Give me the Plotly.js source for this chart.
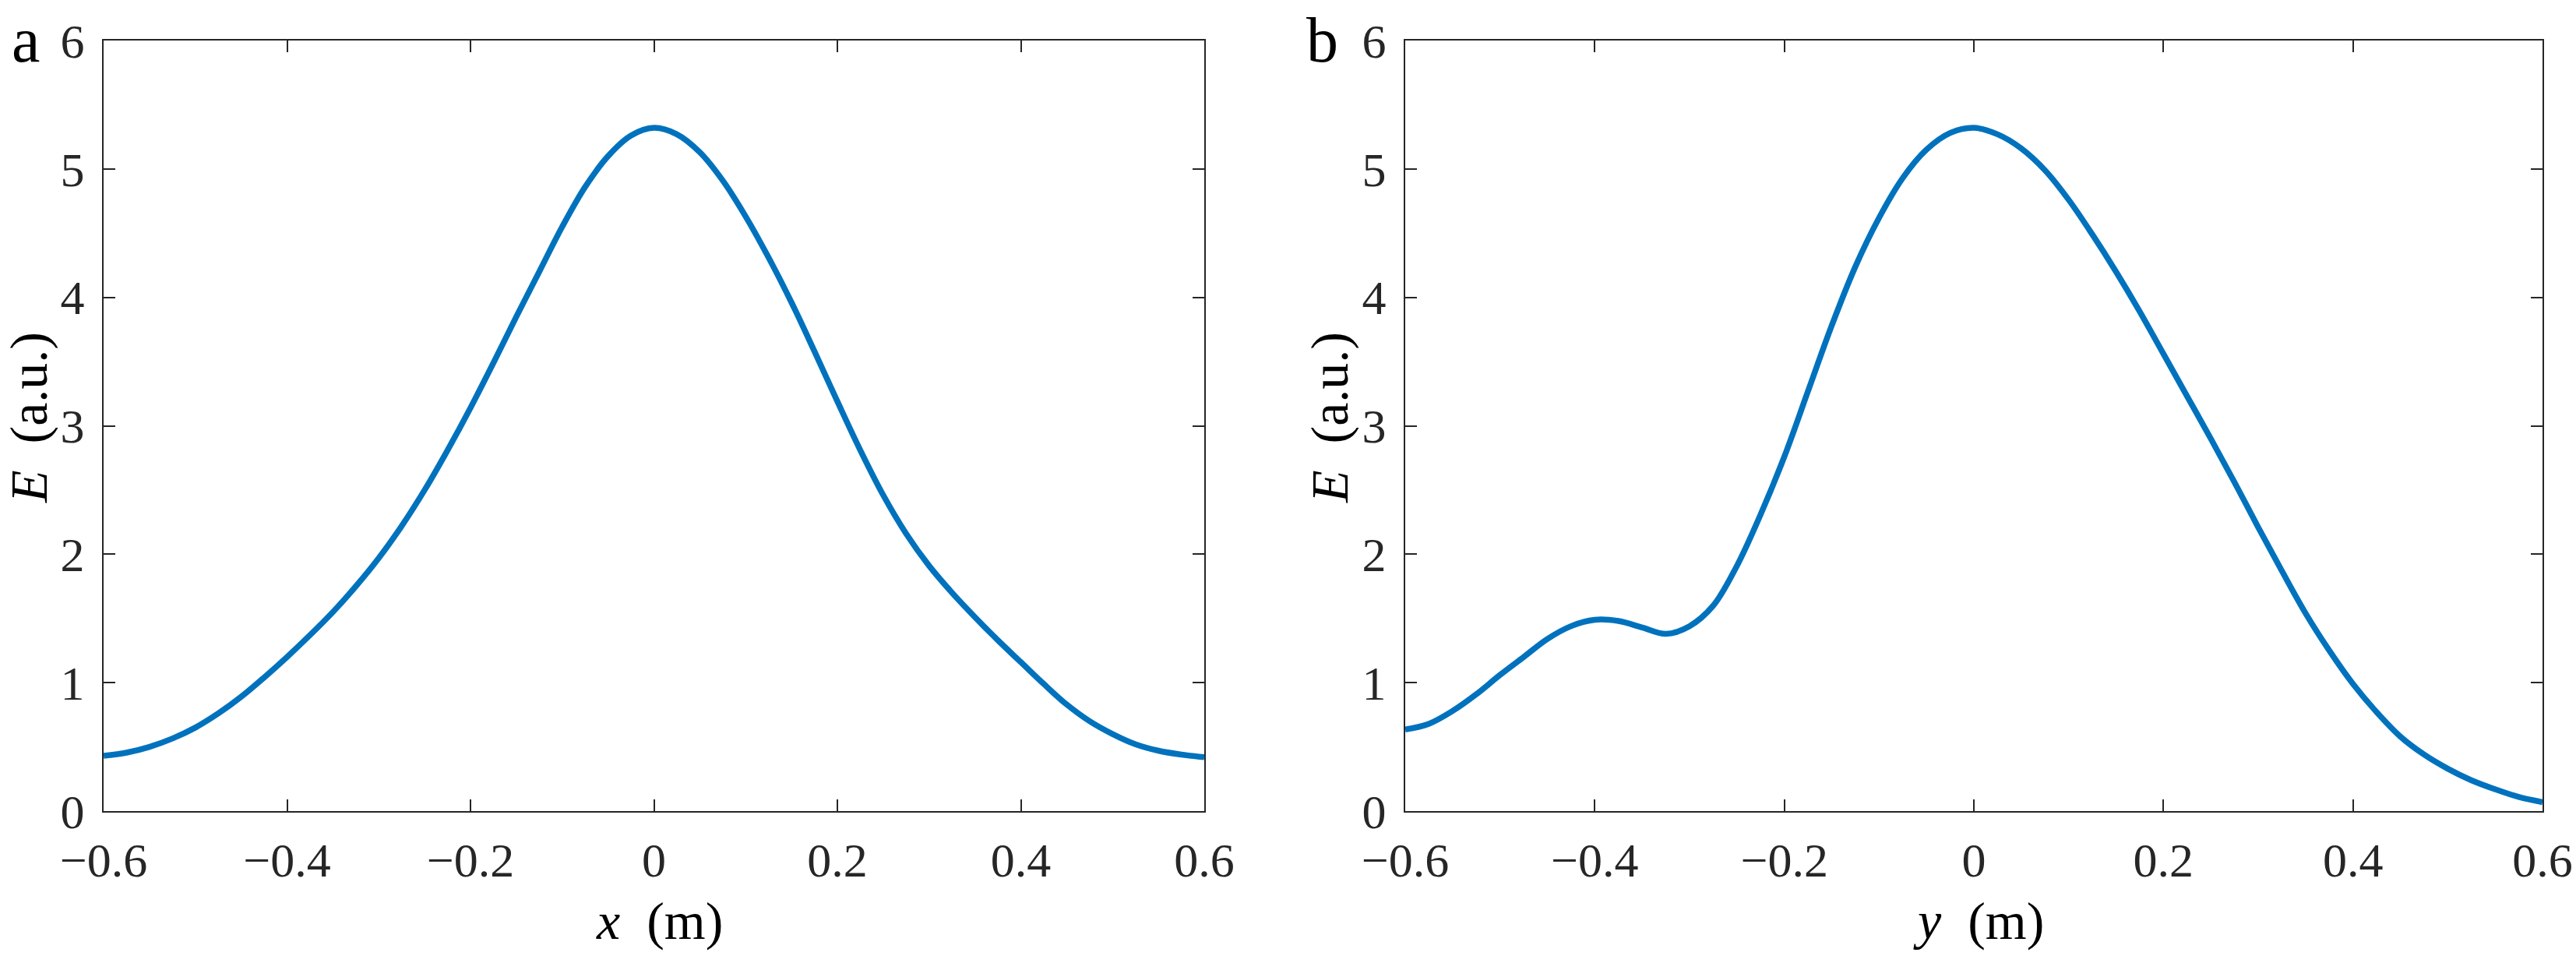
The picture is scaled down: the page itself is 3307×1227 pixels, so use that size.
<!DOCTYPE html>
<html>
<head>
<meta charset="utf-8">
<script src="https://cdn.plot.ly/plotly-3.0.1.min.js"></script>
<style>
  html, body { margin: 0; padding: 0; background: #fff; }
  #chart { width: 3307px; height: 1227px; }
</style>
</head>
<body>
<div id="chart"></div>
<script>
// panel a: E along x
var posX = [-0.6, -0.575, -0.55, -0.525, -0.5, -0.475, -0.45, -0.425, -0.4, -0.375, -0.35, -0.325,
            -0.3, -0.275, -0.25, -0.225, -0.2, -0.175, -0.15, -0.125, -0.1, -0.075, -0.05, -0.025,
            0, 0.025, 0.05, 0.075, 0.1, 0.125, 0.15, 0.175, 0.2, 0.225, 0.25, 0.275,
            0.3, 0.325, 0.35, 0.375, 0.4, 0.425, 0.45, 0.475, 0.5, 0.525, 0.55, 0.575, 0.6];
var fieldX = [0.43, 0.455, 0.50, 0.565, 0.65, 0.76, 0.89, 1.04, 1.20, 1.37, 1.55, 1.75,
              1.97, 2.22, 2.50, 2.81, 3.14, 3.49, 3.85, 4.20, 4.55, 4.86, 5.10, 5.26,
              5.32, 5.27, 5.13, 4.91, 4.63, 4.31, 3.96, 3.58, 3.19, 2.81, 2.46, 2.16,
              1.91, 1.70, 1.51, 1.33, 1.16, 0.99, 0.83, 0.70, 0.60, 0.52, 0.47, 0.44, 0.42];

// panel b: E along y (side lobe near -0.4)
var posY = [-0.6, -0.575, -0.55, -0.525, -0.5, -0.475, -0.45, -0.425, -0.4, -0.375, -0.35, -0.325,
            -0.3, -0.275, -0.25, -0.225, -0.2, -0.175, -0.15, -0.125, -0.1, -0.075, -0.05, -0.025,
            0, 0.025, 0.05, 0.075, 0.1, 0.125, 0.15, 0.175, 0.2, 0.225, 0.25, 0.275,
            0.3, 0.325, 0.35, 0.375, 0.4, 0.425, 0.45, 0.475, 0.5, 0.525, 0.55, 0.575, 0.6];
var fieldY = [0.635, 0.68, 0.78, 0.91, 1.06, 1.20, 1.34, 1.44, 1.49, 1.48, 1.43, 1.38,
              1.44, 1.60, 1.91, 2.31, 2.76, 3.27, 3.78, 4.24, 4.62, 4.93, 5.15, 5.28,
              5.32, 5.27, 5.16, 4.99, 4.76, 4.49, 4.20, 3.89, 3.56, 3.23, 2.90, 2.56,
              2.21, 1.87, 1.54, 1.25, 0.99, 0.77, 0.58, 0.44, 0.33, 0.24, 0.17, 0.11, 0.07];

var xTicks = [-0.6, -0.4, -0.2, 0, 0.2, 0.4, 0.6];
var yTicks = [0, 1, 2, 3, 4, 5, 6];

var W = 3307, H = 1227;
var serif = "'Liberation Serif', 'Times New Roman', Times, serif";
var ink = '#262626';
var blue = '#0072BD';

var traceA = {
  x: posX, y: fieldX, xaxis: 'x', yaxis: 'y',
  mode: 'lines', type: 'scatter',
  line: {color: blue, width: 7.5, shape: 'spline', smoothing: 1}
};
var traceB = {
  x: posY, y: fieldY, xaxis: 'x2', yaxis: 'y2',
  mode: 'lines', type: 'scatter',
  line: {color: blue, width: 7.5, shape: 'spline', smoothing: 1}
};

function xax(dom, anchor) {
  return {
    domain: dom, anchor: anchor, range: [-0.6, 0.6],
    tickvals: xTicks, ticks: 'inside', ticklen: 15, tickwidth: 2, tickcolor: ink,
    showline: true, linecolor: ink, linewidth: 2, mirror: 'ticks',
    showgrid: false, zeroline: false, ticklabelstandoff: 8,
    tickfont: {family: serif, size: 62, color: ink}
  };
}
function yax(anchor) {
  return {
    domain: [1 - 1041 / H, 1 - 52 / H], anchor: anchor, range: [0, 6],
    tickvals: yTicks, ticks: 'inside', ticklen: 15, tickwidth: 2, tickcolor: ink,
    showline: true, linecolor: ink, linewidth: 2, mirror: 'ticks',
    showgrid: false, zeroline: false, ticklabelstandoff: 10,
    tickfont: {family: serif, size: 62, color: ink}
  };
}

function txt(s, x, y, size, rot) {
  return {
    text: s, xref: 'paper', yref: 'paper', x: x / W, y: 1 - y / H,
    xanchor: 'center', yanchor: 'middle', showarrow: false, textangle: rot || 0,
    font: {family: serif, size: size, color: '#000'}
  };
}

var layout = {
  width: W, height: H,
  margin: {l: 0, r: 0, t: 0, b: 0},
  paper_bgcolor: '#fff', plot_bgcolor: '#fff',
  showlegend: false,
  xaxis: xax([133 / W, 1546 / W], 'y'),
  yaxis: yax('x'),
  xaxis2: xax([1804 / W, 3264 / W], 'y2'),
  yaxis2: yax('x2'),
  annotations: [
    txt('a', 33, 51, 82),
    txt('b', 1697, 51, 82),
    txt('<i>x</i>  (m)', 846, 1182, 68),
    txt('<i>y</i>  (m)', 2540, 1182, 68),
    txt('<i>E</i>  (a.u.)', 37, 536, 68, -90),
    txt('<i>E</i>  (a.u.)', 1707, 536, 68, -90)
  ]
};

Plotly.newPlot('chart', [traceA, traceB], layout, {staticPlot: true});
</script>
</body>
</html>
